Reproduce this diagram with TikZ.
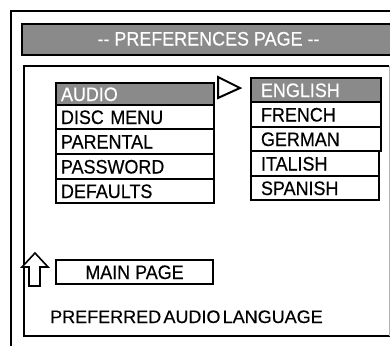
\documentclass[tikz,border=0pt]{standalone}
\usepackage{fontspec}
\setmainfont{Liberation Sans}[WordSpace=0.45,FakeBold=0.4]
\newfontfamily\condfont{Liberation Sans}[FakeStretch=0.92,WordSpace=0.4,FakeBold=0.4]
\newfontfamily\titlefont{Liberation Sans}[FakeStretch=0.92,FakeBold=0.4]
\definecolor{barg}{RGB}{138,138,138}
\begin{document}
\begin{tikzpicture}[x=1pt,y=-1pt,line join=miter,
  frame/.style={draw=black,line width=2pt},
  bigfont/.style={font=\condfont\fontsize{19.5}{19.5}\selectfont},
  capbox/.style={bigfont,text height=14pt,text depth=0pt},
  leftrow/.style={capbox,draw=black,line width=2pt,anchor=north west,inner ysep=0pt,inner xsep=5pt,text width=148pt,align=left},
  rightrow/.style={capbox,draw=black,line width=2pt,anchor=north west,inner ysep=0pt,inner xsep=10pt,text width=110pt,align=left},
  hl/.style={fill=barg,text=white}]
\useasboundingbox (0,0) rectangle (390,345);
\clip (0,0) rectangle (390,345);
\fill[white] (0,0) rectangle (390,345);
% outer frame
\draw[frame] (11,11) rectangle (420,380);
% title bar
\node[draw=black,line width=2pt,fill=barg,anchor=north west,minimum width=420pt,minimum height=31pt,inner sep=0pt] (bar) at (21,23) {};
\node[font=\titlefont\fontsize{19.5}{19.5}\selectfont,text height=14pt,text depth=0pt,text=white,inner sep=0pt] (title) at (208.5,38.5) {-{}- PREFERENCES PAGE -{}-};
% inner box
\draw[black,line width=2pt] (389,66) -- (24,66) -- (24,336) -- (392,336);
\draw[gray!60,line width=1pt] (389,66) -- (389,336);
% left menu
\node[leftrow,hl,minimum height=22pt] (audio) at (55,82) {AUDIO};
\node[leftrow,minimum height=24pt] (disc) at (55,104) {DISC MENU};
\node[leftrow,minimum height=25pt] (parental) at (55,128) {PARENTAL};
\node[leftrow,minimum height=25pt] (password) at (55,153) {PASSWORD};
\node[leftrow,minimum height=24pt] (defaults) at (55,178) {DEFAULTS};
% pointer triangle
\draw[black,line width=2pt] (218,77) -- (240,88) -- (218,98) -- cycle;
% right menu
\node[rightrow,hl,minimum height=24pt] (english) at (250,77) {ENGLISH};
\node[rightrow,minimum height=25pt] (french) at (250,101) {FRENCH};
\node[rightrow,minimum height=24pt] (german) at (250,126) {GERMAN};
\node[rightrow,minimum height=25pt,text width=108pt] (italish) at (250,150) {ITALISH};
\node[rightrow,minimum height=24pt,text width=108pt] (spanish) at (250,175) {SPANISH};
% up arrow
\draw[black,line width=1.6pt,fill=white] (35,253) -- (48,267) -- (40,267) -- (40,286) -- (29,286) -- (29,267) -- (22,267) -- cycle;
% main page
\node[capbox,draw=black,line width=2pt,anchor=north west,minimum width=157pt,minimum height=24pt,inner sep=0pt] (main) at (55,259) {MAIN PAGE};
% status text
\node[font=\fontsize{18}{18}\selectfont,anchor=base west,inner sep=0pt] (status) at (50,323) {PREFERRED AUDIO LANGUAGE};
\end{tikzpicture}
\end{document}
